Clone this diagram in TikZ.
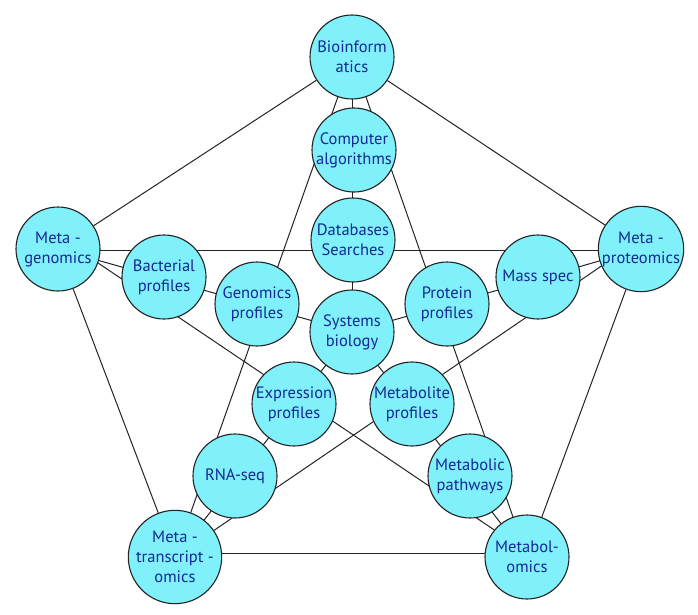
\documentclass[tikz,border=0pt]{standalone}
\usepackage{fontspec}
\setmainfont{PT Sans}
\usetikzlibrary{backgrounds}
\definecolor{nodefill}{RGB}{128,240,250}
\definecolor{nodetext}{RGB}{20,40,150}
\definecolor{edgecol}{RGB}{35,35,35}
\begin{document}
\begin{tikzpicture}[x=1pt,y=-1pt,
  bub/.style={circle,draw=edgecol,line width=1.1pt,fill=nodefill,minimum size=84pt,inner sep=0pt,align=center,text=nodetext,font=\fontsize{16.5}{20}\selectfont},
  link/.style={draw=edgecol,line width=1pt}]
\useasboundingbox (0,0) rectangle (698,615);
% outer nodes
\node[bub] (b)   at (352,57)  {Bioinform\\atics};
\node[bub] (mg)  at (58,249)  {Meta -\\genomics};
\node[bub] (mp)  at (641,249) {Meta -\\proteomics};
\node[bub] (mt)  at (175,557) {Meta -\\transcript -\\omics};
\node[bub] (mo)  at (527,557) {Metabol-\\omics};
% star tips
\node[bub] (c)   at (354,150) {Computer\\algorithms};
\node[bub] (ba)  at (164,277) {Bacterial\\profiles};
\node[bub] (ms)  at (538,277) {Mass spec};
\node[bub] (r)   at (235,476) {RNA-seq};
\node[bub] (mpw) at (470,476) {Metabolic\\pathways};
% inner pentagon
\node[bub] (d)   at (353,240) {Databases\\Searches};
\node[bub] (g)   at (257,304) {Genomics\\profiles};
\node[bub] (p)   at (447,304) {Protein\\profiles};
\node[bub] (e)   at (294,404) {Expression\\profiles};
\node[bub] (ml)  at (412,404) {Metabolite\\profiles};
% centre
\node[bub] (s)   at (352,332) {Systems\\biology};
\begin{scope}[on background layer]
  % outer pentagon
  \draw[link] (b) -- (mg);
  \draw[link] (b) -- (mp);
  \draw[link] (mg) -- (mt);
  \draw[link] (mp) -- (mo);
  \draw[link] ([yshift=3.5pt]mt.center) -- ([yshift=3.5pt]mo.center);
  % pentagram diagonals
  \draw[link] (b.center) -- (mt.center);
  \draw[link] (b.center) -- (mo.center);
  \draw[link] ([yshift=-1.5pt]mg.center) -- ([yshift=-1.5pt]mp.center);
  \draw[link] ([yshift=13pt]mg.center) -- ([yshift=5pt]mo.center);
  \draw[link] ([yshift=10pt]mp.center) -- (mt.center);
  % spokes to the centre
  \draw[link] (b.center) -- (s.center);
  \draw[link] (mg.center) -- (s.center);
  \draw[link] (mp.center) -- (s.center);
  \draw[link] (mt.center) -- (s.center);
  \draw[link] (mo.center) -- (s.center);
\end{scope}
\end{tikzpicture}
\end{document}
